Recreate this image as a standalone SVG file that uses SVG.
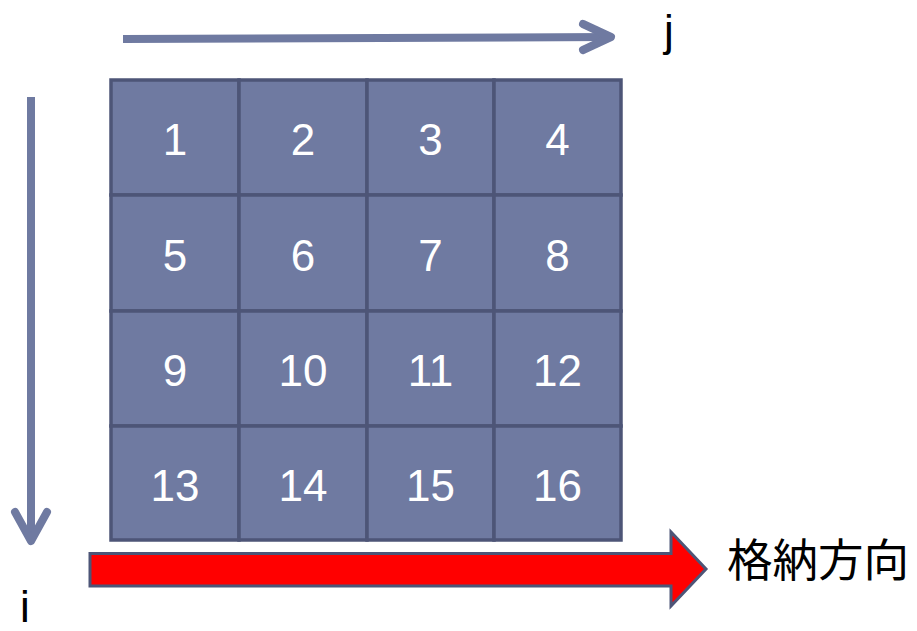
<svg xmlns="http://www.w3.org/2000/svg" width="917" height="631" viewBox="0 0 917 631">
<style>
.cell{fill:#6f7aa1;stroke:#4d5577;stroke-width:3.5}
.num{fill:#ffffff;font-family:"Liberation Sans",Arial,sans-serif;font-size:44px;text-anchor:middle}
.axis{fill:none;stroke:#6f7aa1;stroke-width:8;stroke-linejoin:round}
.lbl{fill:#000000;font-family:"Liberation Sans","Noto Sans CJK JP",sans-serif;font-size:44px}
.cjk{font-size:45.5px}
</style>
<rect width="917" height="631" fill="#ffffff"/>
<g id="connectors">
<path class="axis" d="M123,39 L611,37"/>
<path class="axis" stroke-linecap="round" d="M583,24 L611,37 L583,50"/>
<path class="axis" d="M31,97 L31,540"/>
<path class="axis" stroke-linecap="round" d="M15,512 L31,541 L47,512"/>
<path id="store-arrow" d="M90,553.5 L671,553.5 L671,532 L706,569 L671,606 L671,586 L90,586 Z" fill="#ff0000" stroke="#4d5577" stroke-width="3" stroke-linejoin="miter"/>
</g>
<g id="c1"><rect class="cell" x="111" y="80" width="128" height="115"/><text class="num" x="175" y="155">1</text></g>
<g id="c2"><rect class="cell" x="239" y="80" width="128" height="115"/><text class="num" x="303" y="155">2</text></g>
<g id="c3"><rect class="cell" x="367" y="80" width="127" height="115"/><text class="num" x="430.5" y="155">3</text></g>
<g id="c4"><rect class="cell" x="494" y="80" width="127" height="115"/><text class="num" x="557.5" y="155">4</text></g>
<g id="c5"><rect class="cell" x="111" y="195" width="128" height="116"/><text class="num" x="175" y="271">5</text></g>
<g id="c6"><rect class="cell" x="239" y="195" width="128" height="116"/><text class="num" x="303" y="271">6</text></g>
<g id="c7"><rect class="cell" x="367" y="195" width="127" height="116"/><text class="num" x="430.5" y="271">7</text></g>
<g id="c8"><rect class="cell" x="494" y="195" width="127" height="116"/><text class="num" x="557.5" y="271">8</text></g>
<g id="c9"><rect class="cell" x="111" y="311" width="128" height="115"/><text class="num" x="175" y="386">9</text></g>
<g id="c10"><rect class="cell" x="239" y="311" width="128" height="115"/><text class="num" x="303" y="386">10</text></g>
<g id="c11"><rect class="cell" x="367" y="311" width="127" height="115"/><text class="num" x="430.5" y="386">11</text></g>
<g id="c12"><rect class="cell" x="494" y="311" width="127" height="115"/><text class="num" x="557.5" y="386">12</text></g>
<g id="c13"><rect class="cell" x="111" y="426" width="128" height="114"/><text class="num" x="175" y="501">13</text></g>
<g id="c14"><rect class="cell" x="239" y="426" width="128" height="114"/><text class="num" x="303" y="501">14</text></g>
<g id="c15"><rect class="cell" x="367" y="426" width="127" height="114"/><text class="num" x="430.5" y="501">15</text></g>
<g id="c16"><rect class="cell" x="494" y="426" width="127" height="114"/><text class="num" x="557.5" y="501">16</text></g>
<g id="label-j"><text class="lbl" x="664" y="46">j</text></g>
<g id="label-i"><text class="lbl" x="20" y="622">i</text></g>
<g id="label-store"><text class="lbl cjk" x="727" y="577">格納方向</text></g>
</svg>
